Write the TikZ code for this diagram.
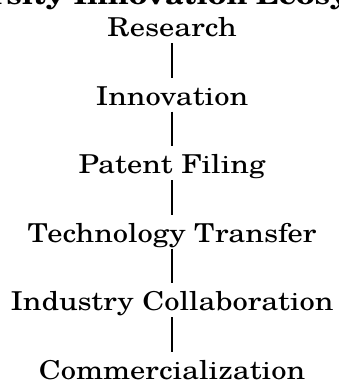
\documentclass[tikz,border=0pt]{standalone}
\usepackage{fontspec}
\setmainfont{TeX Gyre Schola}[FakeStretch=1.172]
\begin{document}
\begin{tikzpicture}[x=1pt,y=1pt,
  stage/.style={anchor=base,inner sep=0pt,text height=19pt,text depth=6pt,font=\fontsize{26}{30}\selectfont},
  titletext/.style={anchor=base,inner sep=0pt,font=\bfseries\fontsize{26}{30}\selectfont},
  link/.style={line width=2.8pt,shorten >=8.5pt}]
\useasboundingbox (0,0) rectangle (339,380);
\node[titletext] (title) at (161,375) {University Innovation Ecosystem};
\node[stage] (s1) at (172,343) {Research};
\node[stage] (s2) at (172,274.5) {Innovation};
\node[stage] (s3) at (172,206) {Patent Filing};
\node[stage] (s4) at (172,137.5) {Technology Transfer};
\node[stage] (s5) at (172,69) {Industry Collaboration};
\node[stage] (s6) at (172,0.5) {Commercialization};
\draw[link] (s1.south) -- (s2.north);
\draw[link] (s2.south) -- (s3.north);
\draw[link] (s3.south) -- (s4.north);
\draw[link] (s4.south) -- (s5.north);
\draw[link] (s5.south) -- (s6.north);
\end{tikzpicture}
\end{document}
